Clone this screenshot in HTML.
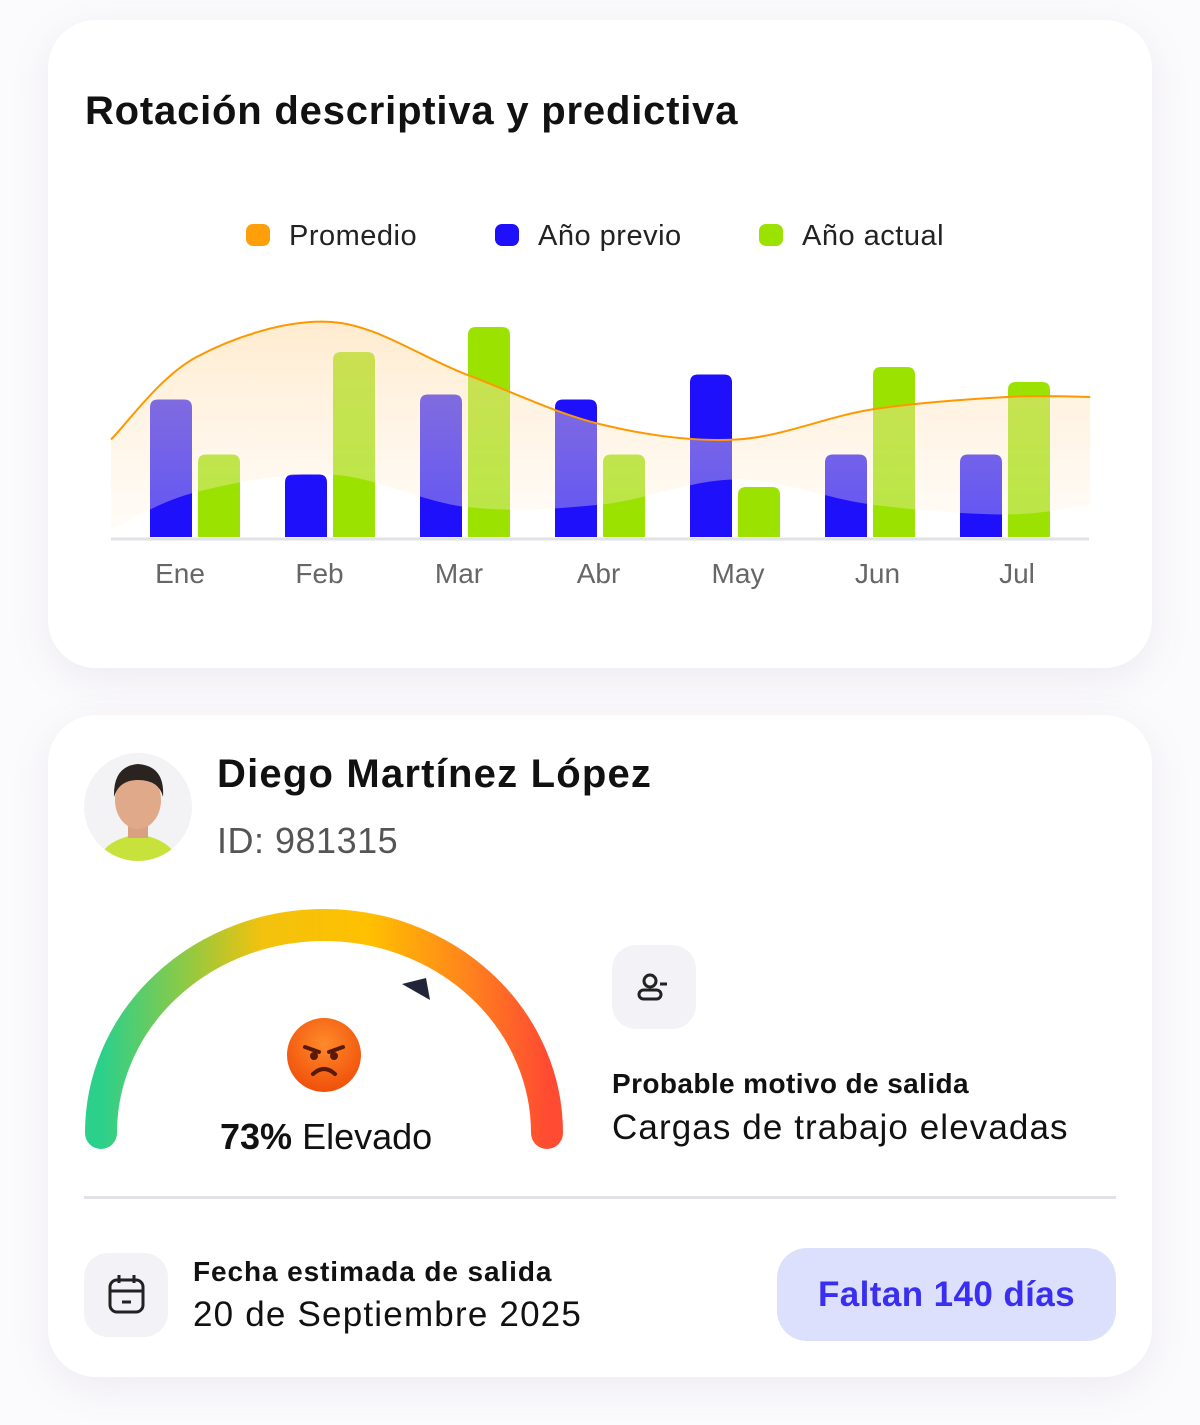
<!DOCTYPE html>
<html><head><meta charset="utf-8">
<style>
html,body{margin:0;padding:0}
body{width:1200px;height:1425px;background:#fbfafc;font-family:"Liberation Sans",sans-serif;position:relative;overflow:hidden}
.card{position:absolute;left:48px;width:1104px;background:#fff;border-radius:48px;box-shadow:0 10px 40px rgba(120,110,150,0.10)}
.t{position:absolute;white-space:nowrap}
</style></head><body>
<div class="card" style="top:20px;height:648px"></div>
<div class="card" style="top:715px;height:662px"></div>

<div class="t" style="left:85px;top:89px;font-size:40px;font-weight:bold;color:#111;letter-spacing:0.8px">Rotación descriptiva y predictiva</div>

<svg id="chart" width="1200" height="620" style="position:absolute;left:0;top:0">
<defs>
<linearGradient id="areaG" x1="0" y1="0" x2="0" y2="1" gradientUnits="objectBoundingBox">
<stop offset="0" stop-color="#ffd9a0" stop-opacity="0.85"/><stop offset="1" stop-color="#fff3e3" stop-opacity="0.5"/></linearGradient>
</defs>
<g id="legend"></g>
<g id="bars"></g>
<g id="area"></g>
<g id="xlabels"></g>
</svg>

<svg width="110" height="110" style="position:absolute;left:83px;top:752px">
<circle cx="55" cy="55" r="54" fill="#f3f2f5"/>
<clipPath id="av"><circle cx="55" cy="55" r="54"/></clipPath>
<g clip-path="url(#av)">
<path d="M15 110 Q20 88 55 82 Q90 88 95 110Z" fill="#c7e23a"/>
<rect x="45" y="62" width="20" height="24" fill="#d9a083"/>
<ellipse cx="55" cy="48" rx="23" ry="29" fill="#e0a98a"/>
<path d="M31 45 Q30 14 55 12 Q82 14 80 45 Q76 28 55 28 Q36 28 31 45Z" fill="#2a2320"/>
</g></svg>
<div class="t" style="left:217px;top:752px;font-size:40px;font-weight:bold;color:#111;letter-spacing:1.2px">Diego Martínez López</div>
<div class="t" style="left:217px;top:820px;font-size:36px;color:#555;letter-spacing:0.5px">ID: 981315</div>

<svg width="520" height="280" style="position:absolute;left:64px;top:890px">
<defs><linearGradient id="gg" x1="0" y1="0" x2="1" y2="0">
<stop offset="0" stop-color="#2bd08b"/><stop offset="0.22" stop-color="#9fc83a"/><stop offset="0.36" stop-color="#f2c20e"/><stop offset="0.6" stop-color="#ffc000"/><stop offset="0.8" stop-color="#ff8a1a"/><stop offset="1" stop-color="#ff4b32"/></linearGradient>
<radialGradient id="emo" cx="0.5" cy="0.35" r="0.65"><stop offset="0" stop-color="#ff8a2a"/><stop offset="1" stop-color="#f0500a"/></radialGradient></defs>
<path d="M37 243 A223 208 0 0 1 483 243" fill="none" stroke="url(#gg)" stroke-width="32" stroke-linecap="round"/>
<polygon points="338,94 366,110 362,88" fill="#22243a"/>
<circle cx="260" cy="165" r="37" fill="url(#emo)"/>
<path d="M241 157 L255 162 M279 157 L265 162" stroke="#5a1a08" stroke-width="4" stroke-linecap="round"/>
<circle cx="250" cy="166" r="4" fill="#5a1a08"/><circle cx="270" cy="166" r="4" fill="#5a1a08"/>
<path d="M249 184 Q260 174 271 184" stroke="#5a1a08" stroke-width="4" fill="none" stroke-linecap="round"/>
</svg>
<div class="t" style="left:220px;top:1116px;font-size:36px;color:#111"><b>73%</b> Elevado</div>

<div style="position:absolute;left:612px;top:945px;width:84px;height:84px;border-radius:24px;background:#f3f2f6">
<svg width="84" height="84"><circle cx="38" cy="36" r="6" fill="none" stroke="#222" stroke-width="3"/><rect x="27" y="45" width="22" height="9" rx="4.5" fill="none" stroke="#222" stroke-width="3"/><line x1="48" y1="39" x2="55" y2="39" stroke="#222" stroke-width="3"/></svg></div>
<div class="t" style="left:612px;top:1068px;font-size:28px;font-weight:bold;color:#111;letter-spacing:0.4px">Probable motivo de salida</div>
<div class="t" style="left:612px;top:1108px;font-size:35px;color:#111;letter-spacing:1.1px">Cargas de trabajo elevadas</div>

<div style="position:absolute;left:84px;top:1196px;width:1032px;height:3px;background:#e2e1e6"></div>

<div style="position:absolute;left:84px;top:1253px;width:84px;height:84px;border-radius:24px;background:#f3f2f6">
<svg width="84" height="84"><rect x="26" y="27" width="33" height="32" rx="7" fill="none" stroke="#222" stroke-width="3"/><line x1="26" y1="38" x2="59" y2="38" stroke="#222" stroke-width="3"/><line x1="35" y1="22" x2="35" y2="30" stroke="#222" stroke-width="3"/><line x1="50" y1="22" x2="50" y2="30" stroke="#222" stroke-width="3"/><line x1="38" y1="49" x2="47" y2="49" stroke="#222" stroke-width="3"/></svg></div>
<div class="t" style="left:193px;top:1256px;font-size:28px;font-weight:bold;color:#111;letter-spacing:0.9px">Fecha estimada de salida</div>
<div class="t" style="left:193px;top:1295px;font-size:35px;color:#111;letter-spacing:1.2px">20 de Septiembre 2025</div>
<div style="position:absolute;left:777px;top:1248px;width:339px;height:93px;border-radius:30px;background:#dde0fd;color:#3a2ff0;font-size:35px;font-weight:bold;line-height:93px;text-align:center;letter-spacing:0.4px">Faltan 140 días</div>

<script>
const categories = ['Ene','Feb','Mar','Abr','May','Jun','Jul'];
const prevYear = [55,25,57,55,65,33,33];
const currYear = [33,74,84,33,20,68,62];
const avgXs = [0,0.5,1.5,2.5,3.5,4.5,5.5,6.5,7.12];
const avgUpper = [39,72,86,65,45,39,51,56,56];
const avgLower = [3,18,25,12,13,23,13,9,13];
const legendLabels = ['Promedio','Año previo','Año actual'];

const NS='http://www.w3.org/2000/svg';
const base=537, pxPer=2.5, x0=111, groupW=135;
const y = v => base - v*pxPer;
const xg = i => 150 + i*groupW;
const xArea = t => x0 + t*groupW + (t>0?18:0);
function mk(tag,attrs,parent){const e=document.createElementNS(NS,tag);for(const k in attrs)e.setAttribute(k,attrs[k]);parent.appendChild(e);return e;}
function bar(x,top,w,color,parent,name){
  const r=8;
  const p=mk('path',{d:`M${x} ${base} V${top+r} Q${x} ${top} ${x+r} ${top} H${x+w-r} Q${x+w} ${top} ${x+w} ${top+r} V${base} Z`,fill:color},parent);
  
  
}
const bars=document.getElementById('bars');
categories.forEach((c,i)=>{
  bar(xg(i),y(prevYear[i]),42,'#1f10fb',bars,'bar-prev-'+c.toLowerCase());
  bar(xg(i)+48,y(currYear[i]),42,'#9be200',bars,'bar-curr-'+c.toLowerCase());
});
function pts(vals){return avgXs.map((t,i)=>[xArea(t),y(vals[i])]);}
function smooth(p){let d=`M${p[0][0]} ${p[0][1]}`;for(let i=0;i<p.length-1;i++){const a=p[i-1]||p[i],b=p[i],c=p[i+1],e=p[i+2]||c;
 d+=` C${b[0]+(c[0]-a[0])/6} ${b[1]+(c[1]-a[1])/6} ${c[0]-(e[0]-b[0])/6} ${c[1]-(e[1]-b[1])/6} ${c[0]} ${c[1]}`;}return d;}
const up=pts(avgUpper), lo=pts(avgLower);
const loRev=lo.slice().reverse();
let dLo=smooth(loRev).replace(/^M/,'L');
const area=document.getElementById('area');
const a=mk('path',{d:smooth(up)+' '+dLo+' Z',fill:'url(#areaG)',opacity:'0.6'},area);


const l=mk('path',{d:smooth(up),fill:'none',stroke:'#ff9800','stroke-width':2},area);


const ax=mk('line',{x1:111,x2:1089,y1:539,y2:539,stroke:'#e2e1e6','stroke-width':3},area);


const xl=document.getElementById('xlabels');
categories.forEach((c,i)=>{
  const t=mk('text',{x:180+i*139.5,y:583,'text-anchor':'middle','font-size':28,fill:'#666','font-family':'Liberation Sans'},xl);
  t.textContent=c;
  
  
});
const lg=document.getElementById('legend');
const lgColors=['#ff9f0a','#1f10fb','#9be200'], lgX=[246,495,759];
legendLabels.forEach((s,i)=>{
  const g=mk('g',{},lg);
  
  
  mk('rect',{x:lgX[i],y:224,width:24,height:22,rx:7,fill:lgColors[i]},g);
  const t=mk('text',{x:lgX[i]+43,y:245,'font-size':29,fill:'#222','font-family':'Liberation Sans','letter-spacing':0.5},g);
  t.textContent=s;
});
</script>
</body></html>
